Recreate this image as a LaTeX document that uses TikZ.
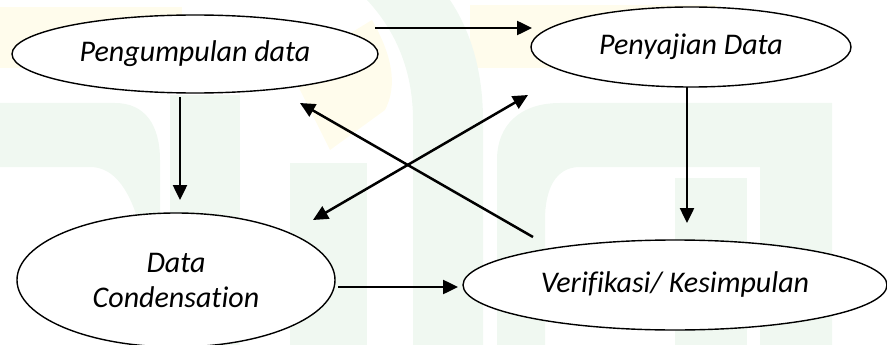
\documentclass[tikz,border=0pt]{standalone}
\usepackage{fontspec}
\setmainfont{Carlito}[Ligatures=NoCommon]
\usetikzlibrary{arrows.meta,calc,shapes.geometric}
\definecolor{wmgreen}{RGB}{240,248,241}
\definecolor{wmcream}{RGB}{255,252,236}

\begin{document}
\begin{tikzpicture}[x=1pt, y=-1pt,
	stage/.style={draw, ellipse, line width=1.4pt, fill=white, inner sep=0pt, align=center,
		font=\fontsize{30}{35}\selectfont\itshape},
	flow/.style={line width=2.5pt, -{Triangle[length=15pt,width=14pt]}},
	twoway/.style={line width=2.5pt, {Triangle[length=15pt,width=14pt]}-{Triangle[length=15pt,width=14pt]}}]
			%%%%% START %%%%%
			\useasboundingbox (0,0) rectangle (887,345);
			
			% faint logo behind the diagram
			\fill[wmcream] (0,7) rectangle (182,68);
			\fill[wmcream] (470,5) rectangle (717,68);
			\fill[wmcream] (290,70) -- (372,20) .. controls (392,55) and (398,85) .. (385,110) -- (330,150) -- cycle;
			\fill[wmgreen] (0,103) -- (115,103) .. controls (145,103) and (160,125) .. (160,160) -- (160,345)
				-- (155,345) .. controls (150,230) and (130,167) .. (90,167) -- (0,167) -- cycle;
			\fill[wmgreen] (170,95) rectangle (240,345);
			\fill[wmgreen] (290,163) rectangle (367,345);
			\fill[wmgreen] (367,0) .. controls (395,30) and (413,70) .. (413,120) -- (413,345) -- (483,345)
				-- (483,120) .. controls (483,70) and (470,30) .. (450,0) -- cycle;
			\fill[wmgreen] (497,345) -- (497,160) .. controls (497,125) and (520,103) .. (560,103) -- (832,103)
				-- (832,345) -- (760,345) -- (760,167) -- (580,167) .. controls (555,167) and (545,190) .. (545,220)
				-- (545,345) -- cycle;
			\fill[wmgreen] (675,178) rectangle (747,345);
			
			% stages
			\node[stage, minimum width=366, minimum height=78] (A) at (195,54) {Pengumpulan data};
			\node[stage, minimum width=320, minimum height=80] (B) at (691,47) {Penyajian Data};
			\node[stage, minimum width=318, minimum height=134] (C) at (176,280) {Data\\Condensation};
			\node[stage, minimum width=424, minimum height=90] (D) at (675,285) {Verifikasi/ Kesimpulan};
			
			% arrows
			\draw[flow] ($(A)+(180,-26)$) -- ($(B)+(-159,-19)$);
			\draw[flow] ($(A)+(-15,43)$) -- ($(C)+(4,-80)$);
			\draw[flow] ($(B)+(-4,40)$) -- ($(D)+(12,-62)$);
			\draw[flow] ($(C)+(162,7)$) -- ($(D)+(-217,2)$);
			\draw[flow] ($(D)+(-142,-48)$) -- ($(A)+(105,49)$);
			\draw[twoway] ($(C)+(137,-60)$) -- ($(B)+(-163,48)$);
			
			%%%%% END %%%%%
\end{tikzpicture}
\end{document}
